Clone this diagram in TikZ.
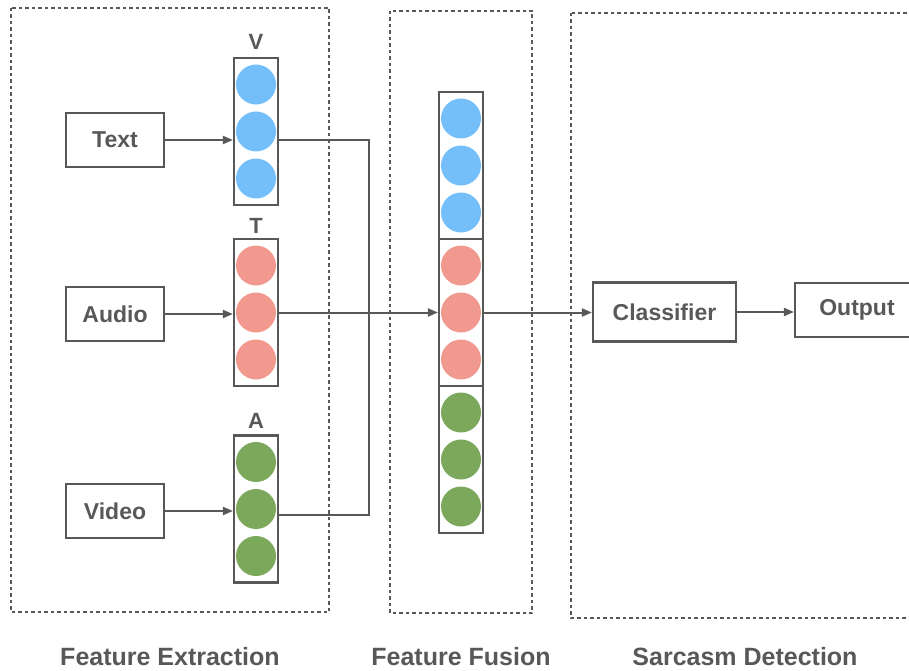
\documentclass[tikz,border=0pt]{standalone}
\usepackage{fontspec}
\setmainfont{Liberation Sans}
\usetikzlibrary{arrows.meta, positioning}
\definecolor{myblue}{RGB}{116, 191, 250}
\definecolor{myred}{RGB}{241, 153, 142}
\definecolor{mygreen}{RGB}{123, 168, 90}
\definecolor{mygray}{RGB}{88, 88, 88}

\begin{document}
\begin{tikzpicture}[x=1pt, y=-1pt,
    inbox/.style={rectangle, draw=mygray, line width=2.2pt, minimum width=98pt, minimum height=54pt, text=mygray, font=\fontsize{23}{26}\selectfont\bfseries},
    col/.style={rectangle, draw=mygray, line width=2.2pt, minimum width=44pt, minimum height=147pt, inner sep=0pt},
    dot/.style={circle, minimum size=40pt, inner sep=0pt},
    collabel/.style={text=mygray, inner sep=0pt, font=\fontsize{22}{24}\selectfont\bfseries},
    stage/.style={text=mygray, inner sep=0pt, font=\fontsize{25}{28}\selectfont\bfseries},
    arr/.style={draw=mygray, line width=2pt, -{Triangle[length=10pt, width=8pt]}},
    wire/.style={draw=mygray, line width=2pt},
    dbox/.style={draw=mygray, line width=2pt, dash pattern=on 3.5pt off 3pt}]
    \useasboundingbox (0, 0) rectangle (909, 671);

    % Stufen
    \draw[dbox] (11, 8) rectangle (329, 612);
    \draw[dbox] (390, 11) rectangle (532, 613);
    \draw[dbox] (571, 13) rectangle (930, 618);

    % Eingaben
    \node[inbox] (text) at (115, 140) {Text};
    \node[inbox] (audio) at (115, 314) {Audio};
    \node[inbox] (video) at (115, 511) {Video};

    % Merkmale
    \node[col] (V) at (256, 131.5) {};
    \node[dot, fill=myblue] (v1) at (256, 84.5) {};
    \node[dot, fill=myblue] (v2) at (256, 131.5) {};
    \node[dot, fill=myblue] (v3) at (256, 178.5) {};
    \node[collabel] (Vlab) at (256, 42) {V};

    \node[col] (T) at (256, 312.5) {};
    \node[dot, fill=myred] (t1) at (256, 265.5) {};
    \node[dot, fill=myred] (t2) at (256, 312.5) {};
    \node[dot, fill=myred] (t3) at (256, 359.5) {};
    \node[collabel] (Tlab) at (256, 226) {T};

    \node[col] (A) at (256, 509) {};
    \node[dot, fill=mygreen] (a1) at (256, 462) {};
    \node[dot, fill=mygreen] (a2) at (256, 509) {};
    \node[dot, fill=mygreen] (a3) at (256, 556) {};
    \node[collabel] (Alab) at (256, 421) {A};

    \draw[arr] (text.east) -- (text.east -| V.west);
    \draw[arr] (audio.east) -- (audio.east -| T.west);
    \draw[arr] (video.east) -- (video.east -| A.west);

    % Fusion
    \node[col] (fv) at (461, 165.5) {};
    \node[dot, fill=myblue] (fv1) at (461, 118.5) {};
    \node[dot, fill=myblue] (fv2) at (461, 165.5) {};
    \node[dot, fill=myblue] (fv3) at (461, 212.5) {};

    \node[col] (ft) at (461, 312.5) {};
    \node[dot, fill=myred] (ft1) at (461, 265.5) {};
    \node[dot, fill=myred] (ft2) at (461, 312.5) {};
    \node[dot, fill=myred] (ft3) at (461, 359.5) {};

    \node[col] (fa) at (461, 459.5) {};
    \node[dot, fill=mygreen] (fa1) at (461, 412.5) {};
    \node[dot, fill=mygreen] (fa2) at (461, 459.5) {};
    \node[dot, fill=mygreen] (fa3) at (461, 506.5) {};

    \coordinate (join) at (369, 515);
    \draw[wire] (V.east |- text) -| (join) -- (join -| A.east);
    \draw[arr] (T.east) -- (ft.west);

    % Klassifikation
    \node[inbox, minimum width=143pt, minimum height=59pt] (clf) at (664.5, 312) {Classifier};
    \node[inbox, minimum width=124pt] (out) at (857, 310) {Output};

    \draw[arr] (ft.east) -- (ft.east -| clf.west);
    \draw[arr] (clf.east) -- (clf.east -| out.west);

    % Beschriftungen
    \node[stage] (s1) at (170, 657) {Feature Extraction};
    \node[stage] (s2) at (461, 657) {Feature Fusion};
    \node[stage] (s3) at (745, 657) {Sarcasm Detection};
\end{tikzpicture}
\end{document}
